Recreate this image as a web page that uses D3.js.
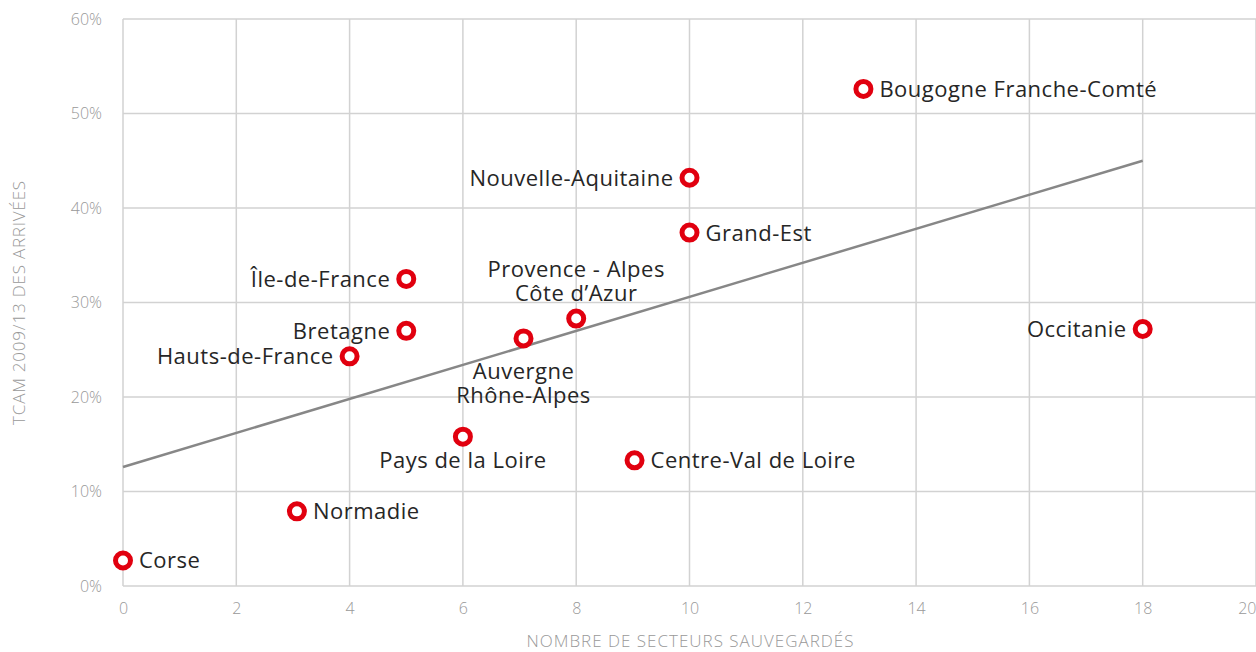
<!DOCTYPE html>
<html>
<head>
<meta charset="utf-8">
<script src="https://cdn.jsdelivr.net/npm/d3@7"></script>
<style>
  html, body { margin: 0; padding: 0; background: #fff; }
  svg { display: block; font-family: "Open Sans", "Noto Sans", sans-serif; }
</style>
</head>
<body>
<div id="chart"></div>
<script>
"use strict";
// regions and their values
var regions = ["Corse", "Normadie", "Hauts-de-France", "Bretagne", "Île-de-France", "Pays de la Loire",
  "Auvergne\nRhône-Alpes", "Provence - Alpes\nCôte d’Azur", "Centre-Val de Loire", "Nouvelle-Aquitaine",
  "Grand-Est", "Bougogne Franche-Comté", "Occitanie"];
var secteurs = [0, 3.07, 4, 5, 5, 6, 7.07, 8, 9.03, 10, 10, 13.07, 18];
var tcam = [0.027, 0.079, 0.243, 0.270, 0.325, 0.158, 0.262, 0.283, 0.133, 0.432, 0.374, 0.526, 0.272];
var labelSide = ["right", "right", "left", "left", "left", "below", "below2", "above", "right", "left", "right", "right", "left"];
// trend line
var trendX = [0, 18];
var trendY = [0.126, 0.450];
var xTicks = [0, 2, 4, 6, 8, 10, 12, 14, 16, 18, 20];
var yTicks = [0, 0.1, 0.2, 0.3, 0.4, 0.5, 0.6];

var width = 1256, height = 652;
var margin = { left: 123, right: 0, top: 19, bottom: 66 };

var svg = d3.select("#chart").append("svg")
  .attr("width", width)
  .attr("height", height);

var x = d3.scaleLinear().domain([0, 20]).range([margin.left, width - margin.right]);
var y = d3.scaleLinear().domain([0, 0.6]).range([height - margin.bottom, margin.top]);

var gridColor = "#d2d2d2";
var axisTextColor = "#999999";

// gridlines
svg.append("g").selectAll("line")
  .data(xTicks)
  .enter().append("line")
  .attr("x1", function (d) { return x(d); })
  .attr("x2", function (d) { return x(d); })
  .attr("y1", y(0.6))
  .attr("y2", y(0))
  .attr("stroke", gridColor)
  .attr("stroke-width", 1.5);

svg.append("g").selectAll("line")
  .data(yTicks)
  .enter().append("line")
  .attr("x1", x(0))
  .attr("x2", x(20))
  .attr("y1", function (d) { return y(d); })
  .attr("y2", function (d) { return y(d); })
  .attr("stroke", gridColor)
  .attr("stroke-width", 1.5);

// axes (labels only)
var xAxis = svg.append("g")
  .attr("transform", "translate(0," + y(0) + ")")
  .call(d3.axisBottom(x).tickValues(xTicks).tickSize(0).tickPadding(17).tickFormat(d3.format("d")));
var yAxis = svg.append("g")
  .attr("transform", "translate(" + x(0) + ",0)")
  .call(d3.axisLeft(y).tickValues(yTicks).tickSize(0).tickPadding(21).tickFormat(d3.format(".0%")));
[xAxis, yAxis].forEach(function (a) {
  a.select(".domain").remove();
  a.selectAll("text")
    .attr("fill", axisTextColor)
    .style("font-size", "16px")
    .style("font-weight", 300)
    .style("font-family", "'Open Sans', sans-serif");
});
// keep the last x label inside the page
xAxis.selectAll("text").each(function () {
  var b = this.getBBox();
  var tx = x(+d3.select(this.parentNode).datum());
  if (tx + b.x + b.width > width) {
    d3.select(this).attr("text-anchor", "end").attr("x", width - tx);
  }
});

// axis titles
svg.append("text")
  .attr("x", (x(0) + x(20)) / 2 + 1)
  .attr("y", 647)
  .attr("text-anchor", "middle")
  .attr("fill", axisTextColor)
  .style("font-size", "17px")
  .style("font-weight", 300)
  .style("letter-spacing", "1px")
  .text("NOMBRE DE SECTEURS SAUVEGARDÉS");

svg.append("text")
  .attr("transform", "translate(25," + ((y(0) + y(0.6)) / 2) + ") rotate(-90)")
  .attr("text-anchor", "middle")
  .attr("fill", axisTextColor)
  .style("font-size", "17px")
  .style("font-weight", 300)
  .style("letter-spacing", "0.8px")
  .text("TCAM 2009/13 DES ARRIVÉES");

// trend line
var line = d3.line()
  .x(function (d) { return x(d[0]); })
  .y(function (d) { return y(d[1]); });
svg.append("path")
  .datum(d3.zip(trendX, trendY))
  .attr("d", line)
  .attr("fill", "none")
  .attr("stroke", "#878787")
  .attr("stroke-width", 2.5);

// points
var data = regions.map(function (r, i) {
  return { name: r, x: secteurs[i], y: tcam[i], side: labelSide[i] };
});

svg.append("g").selectAll("circle")
  .data(data)
  .enter().append("circle")
  .attr("cx", function (d) { return x(d.x); })
  .attr("cy", function (d) { return y(d.y); })
  .attr("r", 7.5)
  .attr("fill", "#fff")
  .attr("stroke", "#e1000f")
  .attr("stroke-width", 5);

// labels
var fontSize = 22, lineH = 23.5;
var labels = svg.append("g").selectAll("text")
  .data(data)
  .enter().append("text")
  .attr("fill", "#262626")
  .style("font-size", fontSize + "px")
  .style("letter-spacing", "0.5px")
  .attr("text-anchor", function (d) {
    return d.side === "right" ? "start" : d.side === "left" ? "end" : "middle";
  })
  .attr("x", function (d) {
    var px = x(d.x);
    return d.side === "right" ? px + 16 : d.side === "left" ? px - 16 : px;
  })
  .attr("y", function (d) {
    var py = y(d.y);
    var n = d.name.split("\n").length;
    if (d.side === "above") return py - 18 - (n - 1) * lineH;
    if (d.side === "below") return py + 31;
    if (d.side === "below2") return py + 41;
    return py + 8;
  });

labels.each(function (d) {
  var t = d3.select(this);
  var xx = t.attr("x");
  d.name.split("\n").forEach(function (s, i) {
    t.append("tspan").attr("x", xx).attr("dy", i === 0 ? 0 : lineH).text(s);
  });
});
</script>
</body>
</html>
